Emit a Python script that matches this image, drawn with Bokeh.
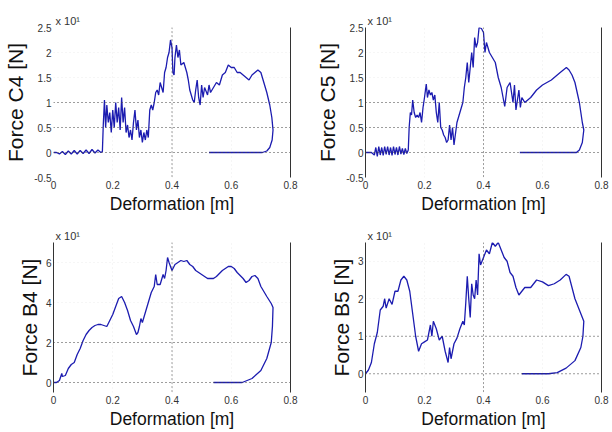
from bokeh.plotting import figure
from bokeh.models import Range1d, FixedTicker, Span, LinearAxis, CustomJSTickFormatter
from bokeh.layouts import column, row
from bokeh.embed import file_html
from bokeh.resources import INLINE

# ---------------- data ----------------
x_ticks = [0, 0.2, 0.4, 0.6, 0.8]
x_tick_labels = ["0", "0.2", "0.4", "0.6", "0.8"]

c_ticks = [-0.5, 0, 0.5, 1, 1.5, 2, 2.5]
c_tick_labels = ["-0.5", "0", "0.5", "1", "1.5", "2", "2.5"]
b4_ticks = [0, 2, 4, 6]
b4_tick_labels = ["0", "2", "4", "6"]
b5_ticks = [0, 1, 2, 3]
b5_tick_labels = ["0", "1", "2", "3"]

c4_x = [0, 0.01, 0.02, 0.03, 0.04, 0.05, 0.06, 0.07, 0.08, 0.09, 0.10, 0.11, 0.12, 0.13, 0.14, 0.15, 0.16, 0.165,
        0.168, 0.172, 0.176, 0.18, 0.185, 0.19, 0.195, 0.20, 0.205, 0.21, 0.215, 0.22, 0.225, 0.23, 0.235, 0.24,
        0.245, 0.25, 0.255, 0.26, 0.265, 0.27, 0.275, 0.28, 0.285, 0.29, 0.295, 0.30, 0.305, 0.31, 0.315, 0.32,
        0.325, 0.33, 0.335, 0.34, 0.345, 0.35, 0.355, 0.36, 0.365, 0.37, 0.375, 0.38, 0.385, 0.39, 0.395, 0.40,
        0.403, 0.407, 0.41, 0.415, 0.42, 0.425, 0.43, 0.44, 0.45, 0.455, 0.46, 0.47, 0.475, 0.48, 0.485, 0.49,
        0.495, 0.50, 0.505, 0.51, 0.52, 0.525, 0.53, 0.54, 0.55, 0.56, 0.57, 0.58, 0.59, 0.60, 0.61, 0.62, 0.63,
        0.64, 0.65, 0.66, 0.67, 0.68, 0.69, 0.70, 0.71, 0.72, 0.73, 0.737, 0.741, 0.738, 0.73, 0.72, 0.705, 0.68,
        0.65, 0.60, 0.55, 0.525]
c4_y = [0, 0.0, -0.03, 0.02, -0.04, 0.03, -0.03, 0.04, -0.03, 0.04, -0.02, 0.05, -0.02, 0.06, -0.01, 0.05, 0.0, 0.02,
        0.55, 1.05, 0.5, 0.95, 0.6, 0.8, 0.4, 0.85, 0.5, 1.0, 0.6, 0.9, 0.45, 1.1, 0.6, 0.9,
        0.4, 0.55, 0.3, 0.45, 0.25, 0.6, 0.85, 0.45, 0.65, 0.3, 0.45, 0.2, 0.4, 0.25, 0.45, 0.3,
        0.85, 0.95, 0.85, 1.0, 1.2, 1.25, 1.15, 1.4, 1.3, 1.2, 1.6, 1.7, 1.9, 2.0, 2.25, 2.1,
        1.6, 1.55, 1.9, 2.15, 1.9, 2.05, 1.75, 1.8, 1.6, 1.45, 1.25, 1.05, 1.0, 1.25, 1.45, 1.1,
        0.95, 1.35, 1.1, 1.3, 1.15, 1.35, 1.2, 1.3, 1.4, 1.35, 1.55, 1.6, 1.75, 1.7, 1.7, 1.6, 1.6,
        1.55, 1.5, 1.45, 1.55, 1.6, 1.65, 1.6, 1.4, 1.2, 0.95, 0.7, 0.45, 0.25, 0.1, 0.03, 0.0, 0.0,
        0.0, 0.0, 0.0, 0.0]

c5_x = [0, 0.02, 0.03, 0.035, 0.04, 0.045, 0.05, 0.055, 0.06, 0.065, 0.07, 0.075, 0.08, 0.085, 0.09, 0.095, 0.10,
        0.105, 0.11, 0.115, 0.12, 0.125, 0.13, 0.135, 0.14, 0.145,
        0.148, 0.152, 0.156, 0.16, 0.165, 0.17, 0.175, 0.18, 0.185, 0.19, 0.195, 0.20, 0.206, 0.21, 0.215, 0.22,
        0.225, 0.23, 0.235, 0.24, 0.245, 0.25, 0.255, 0.26, 0.265, 0.27, 0.275, 0.28, 0.285, 0.29, 0.295, 0.30,
        0.31, 0.32, 0.33, 0.335, 0.34, 0.345, 0.35, 0.355, 0.36, 0.365, 0.37, 0.375, 0.38, 0.385, 0.393, 0.40,
        0.405, 0.41, 0.42, 0.43, 0.44, 0.45, 0.46, 0.472, 0.48, 0.49, 0.50, 0.505, 0.51, 0.52, 0.525, 0.53,
        0.54, 0.56, 0.58, 0.60, 0.63, 0.65, 0.66, 0.681, 0.69, 0.70, 0.71, 0.725, 0.735, 0.74, 0.735, 0.725,
        0.715, 0.68, 0.64, 0.60, 0.56, 0.523]
c5_y = [0, 0.0, -0.05, 0.1, -0.08, 0.12, -0.05, 0.1, -0.06, 0.12, -0.04, 0.12, -0.05, 0.1, -0.06, 0.12, -0.04,
        0.1, -0.05, 0.12, -0.03, 0.08, -0.04, 0.08, -0.02, 0.05,
        0.5, 0.8, 0.75, 1.05, 0.8, 0.7, 0.75, 0.7, 0.8, 0.6, 0.9, 1.1, 1.37, 1.1, 1.25, 1.15,
        1.2, 1.05, 1.15, 0.8, 0.6, 1.0, 0.5, 0.45, 0.35, 0.3, 0.2, 0.25, 0.55, 0.25, 0.5, 0.15,
        0.6, 0.8, 1.0, 1.3, 1.5, 1.8, 1.4, 1.7, 2.0, 1.7, 2.3, 2.1, 2.2, 2.5, 2.48, 2.4,
        2.0, 2.2, 2.0, 1.9, 1.8, 1.5, 1.3, 0.92, 1.3, 1.4, 1.0, 1.35, 0.85, 1.25, 0.9, 1.1,
        1.0, 1.1, 1.25, 1.35, 1.45, 1.55, 1.6, 1.7, 1.65, 1.55, 1.4, 1.0, 0.6, 0.45, 0.2, 0.05,
        0.0, 0.0, 0.0, 0.0, 0.0, 0.0]

b4_x = [0, 0.01, 0.02, 0.028, 0.03, 0.04, 0.05, 0.06, 0.07, 0.08, 0.09, 0.10, 0.11, 0.12, 0.13, 0.14, 0.15,
        0.16, 0.17, 0.18, 0.19, 0.20, 0.21, 0.22, 0.23, 0.24, 0.25, 0.26, 0.27, 0.28, 0.285, 0.29, 0.295, 0.30,
        0.31, 0.32, 0.33, 0.34, 0.345, 0.35, 0.36, 0.37, 0.375, 0.38, 0.385, 0.39, 0.40, 0.41, 0.42, 0.43, 0.44,
        0.45, 0.46, 0.47, 0.48, 0.50, 0.52, 0.54, 0.55, 0.57, 0.59, 0.60, 0.61, 0.62, 0.64, 0.65, 0.66, 0.67,
        0.68, 0.69, 0.70, 0.72, 0.735, 0.741, 0.739, 0.735, 0.72, 0.70, 0.67, 0.637, 0.60, 0.54]
b4_y = [0, 0.0, 0.1, 0.45, 0.3, 0.35, 0.7, 0.9, 1.0, 1.4, 1.7, 2.1, 2.4, 2.6, 2.75, 2.85, 2.9,
        2.9, 2.85, 2.8, 3.1, 3.4, 3.8, 4.2, 4.3, 4.0, 3.6, 3.1, 2.8, 2.4, 2.5, 2.8, 3.2, 3.0,
        3.5, 4.0, 4.5, 4.8, 5.4, 4.9, 4.9, 5.4, 5.2, 5.6, 6.25, 6.0, 5.6, 5.9, 6.0, 6.1, 6.05,
        6.1, 5.9, 5.8, 5.6, 5.4, 5.2, 5.2, 5.3, 5.6, 5.8, 5.8, 5.7, 5.5, 5.2, 5.0, 5.1, 5.3,
        5.35, 5.2, 4.8, 4.3, 3.95, 3.75, 2.8, 2.0, 1.2, 0.6, 0.2, 0.0, 0.0, 0.0]

b5_x = [0, 0.01, 0.02, 0.03, 0.04, 0.05, 0.06, 0.065, 0.07, 0.08, 0.09, 0.10, 0.11, 0.12, 0.13, 0.14, 0.15,
        0.16, 0.17, 0.18, 0.19, 0.20, 0.21, 0.22, 0.225, 0.23, 0.24, 0.25, 0.26, 0.27, 0.28, 0.285, 0.29, 0.30,
        0.31, 0.32, 0.33, 0.335, 0.34, 0.345, 0.35, 0.355, 0.36, 0.365, 0.37, 0.375, 0.38, 0.385, 0.39, 0.40,
        0.41, 0.42, 0.43, 0.44, 0.45, 0.46, 0.47, 0.48, 0.49, 0.50, 0.51, 0.52, 0.53, 0.54, 0.56, 0.58, 0.60,
        0.62, 0.64, 0.66, 0.68, 0.69, 0.70, 0.71, 0.725, 0.735, 0.74, 0.737, 0.73, 0.71, 0.68, 0.65, 0.62,
        0.58, 0.53]
b5_y = [0, 0.1, 0.3, 0.8, 1.1, 1.7, 1.8, 2.0, 1.75, 2.0, 1.85, 2.2, 2.2, 2.5, 2.6, 2.5, 2.2,
        1.6, 1.0, 0.6, 0.8, 0.85, 0.9, 1.3, 1.0, 1.4, 1.2, 0.9, 1.0, 0.6, 0.3, 0.7, 0.4, 0.8,
        0.95, 1.2, 1.4, 1.3, 1.9, 2.6, 2.0, 1.5, 2.4, 2.1, 2.0, 2.5, 2.1, 3.2, 2.9, 3.1,
        3.3, 3.2, 3.5, 3.4, 3.5, 3.3, 3.1, 3.0, 2.7, 2.6, 2.3, 2.1, 2.2, 2.3, 2.3, 2.5, 2.45,
        2.35, 2.4, 2.5, 2.65, 2.6, 2.3, 2.0, 1.7, 1.5, 1.4, 1.0, 0.7, 0.35, 0.15, 0.03, 0.0,
        0.0, 0.0]

BLUE = "#1c1cb0"
DARK = "#333333"
FONT = "Liberation Sans"


def fmt(tick_values, tick_texts):
    return CustomJSTickFormatter(args=dict(tv=tick_values, tl=tick_texts), code="""
        let best = 0, d = 1e9;
        for (let i = 0; i < tv.length; i++) {
            const dd = Math.abs(tv[i] - tick);
            if (dd < d) { d = dd; best = i; }
        }
        return tl[best];
    """)


def panel(xs, ys, ylab, yr, yticks, ylabels, dark_y, left_line, w, h, mbl, mbr, mbt, mbb, ystand):
    p = figure(width=w, height=h, output_backend="svg", toolbar_location=None,
               x_range=Range1d(0, 0.8), y_range=Range1d(yr[0], yr[1]),
               min_border_left=mbl, min_border_right=mbr, min_border_top=mbt, min_border_bottom=mbb,
               title="x 10\u00b9")
    p.outline_line_color = None
    p.background_fill_color = "white"
    p.border_fill_color = "white"

    p.title.text_font = FONT
    p.title.text_font_size = "11px"
    p.title.text_font_style = "normal"
    p.title.text_color = DARK
    p.title.align = "left"
    p.title.offset = 2
    p.title.standoff = 1

    p.xgrid.ticker = FixedTicker(ticks=x_ticks)
    p.ygrid.ticker = FixedTicker(ticks=yticks)
    for g in (p.xgrid, p.ygrid):
        g.grid_line_color = "#ececec"
        g.grid_line_dash = "1 3"

    p.xaxis.ticker = FixedTicker(ticks=x_ticks)
    p.xaxis.formatter = fmt(x_ticks, x_tick_labels)
    p.yaxis.ticker = FixedTicker(ticks=yticks)
    p.yaxis.formatter = fmt(yticks, ylabels)
    for ax in (p.xaxis, p.yaxis):
        ax.major_tick_line_color = None
        ax.minor_tick_line_color = None
        ax.major_tick_out = 0
        ax.major_label_text_font = FONT
        ax.major_label_text_font_size = "10px"
        ax.major_label_text_color = DARK
        ax.axis_label_text_font = FONT
        ax.axis_label_text_font_style = "normal"
        ax.axis_label_text_color = "#111111"
    p.xaxis.axis_line_color = None
    p.xaxis.major_label_standoff = 3
    p.xaxis.axis_label = "Deformation [m]"
    p.xaxis.axis_label_text_font_size = "17.5px"
    p.xaxis.axis_label_standoff = 2
    p.yaxis.major_label_standoff = 2
    p.yaxis.axis_line_color = DARK if left_line else None
    p.yaxis.axis_label = ylab
    p.yaxis.axis_label_text_font_size = "21px"
    p.yaxis.axis_label_standoff = ystand

    ra = LinearAxis(ticker=FixedTicker(ticks=[]), major_label_text_font_size="0px",
                    major_tick_line_color=None, minor_tick_line_color=None, major_tick_out=0,
                    axis_line_color=DARK, major_label_standoff=0)
    p.add_layout(ra, "right")

    for yv in dark_y:
        p.add_layout(Span(location=yv, dimension="width", line_color="#444444",
                          line_dash="1 3", line_width=1))
    p.add_layout(Span(location=0.4, dimension="height", line_color="#444444",
                      line_dash="1 3", line_width=1))

    p.line(xs, ys, line_color=BLUE, line_width=1.3)
    return p


p1 = panel(c4_x, c4_y, "Force C4 [N]", (-0.5, 2.5), c_ticks, c_tick_labels, [0, 0.5, 1], False,
           306, 216, 53, 16, 27, 38, 4)
p2 = panel(c5_x, c5_y, "Force C5 [N]", (-0.5, 2.5), c_ticks, c_tick_labels, [0, 0.5, 1], True,
           304, 216, 59, 9, 27, 38, 4)
p3 = panel(b4_x, b4_y, "Force B4 [N]", (-0.5, 7), b4_ticks, b4_tick_labels, [0, 2], True,
           306, 215, 53, 16, 26, 38, 2)
p4 = panel(b5_x, b5_y, "Force B5 [N]", (-0.5, 3.5), b5_ticks, b5_tick_labels, [0, 1], True,
           304, 215, 59, 9, 26, 38, 2)

layout = column(row(p1, p2), row(p3, p4))
open("out.html", "w").write(file_html(layout, INLINE))
